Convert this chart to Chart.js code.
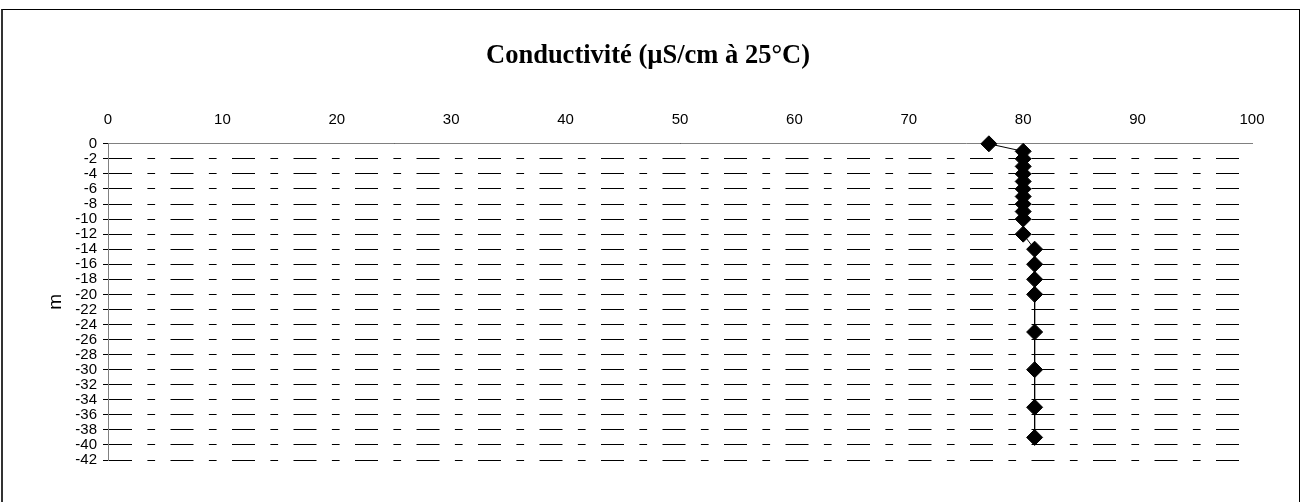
<!DOCTYPE html>
<html>
<head>
<meta charset="utf-8">
<script src="https://cdn.jsdelivr.net/npm/chart.js@4.4.1/dist/chart.umd.min.js"></script>
<style>
  html, body { margin: 0; padding: 0; background: #fff; overflow: hidden; }
  #wrap { position: relative; width: 1302px; height: 502px; }
  #frame {
    position: absolute; left: 1px; top: 9px; width: 1296px; height: 520px;
    border-top: 1px solid #000; border-left: 2px solid #333; border-right: 1px solid #000;
    pointer-events: none;
  }
</style>
</head>
<body>
<div id="wrap">
  <canvas id="chart" width="1302" height="502"></canvas>
  <div id="frame"></div>
</div>
<script>
// profondeur (m) et conductivité
const depths = [0, -1, -2, -3, -4, -5, -6, -7, -8, -9, -10, -12, -14, -16, -18, -20, -25, -30, -35, -39];
const conductivity = [77, 80, 80, 80, 80, 80, 80, 80, 80, 80, 80, 80, 81, 81, 81, 81, 81, 81, 81, 81];
const xTicks = [0, 10, 20, 30, 40, 50, 60, 70, 80, 90, 100];
const yTicks = [0, -2, -4, -6, -8, -10, -12, -14, -16, -18, -20, -22, -24, -26, -28, -30, -32, -34, -36, -38, -40, -42];

const points = depths.map((d, i) => ({ x: conductivity[i], y: d }));

const tickFont = { family: '"Liberation Sans", Arial, sans-serif', size: 15 };

new Chart(document.getElementById('chart'), {
    type: 'scatter',
    data: {
        datasets: [{
            data: points,
            showLine: true,
            borderColor: '#000',
            borderWidth: 1,
            pointStyle: 'rectRot',
            pointRadius: 8,
            pointBackgroundColor: '#000',
            pointBorderColor: '#000',
            pointBorderWidth: 1,
            clip: false
        }]
    },
    options: {
        responsive: false,
        animation: false,
        layout: { padding: { left: 44, right: 50, top: 0, bottom: 42 } },
        plugins: {
            legend: { display: false },
            tooltip: { enabled: false },
            title: {
                display: true,
                text: 'Conductivité (µS/cm à 25°C)',
                color: '#000',
                font: { family: '"Liberation Serif", "Times New Roman", serif', size: 26.5, weight: 'bold' },
                padding: { top: 40, bottom: 40 }
            }
        },
        scales: {
            x: {
                type: 'linear',
                position: 'top',
                min: 0,
                max: 100,
                afterBuildTicks: (scale) => { scale.ticks = xTicks.map(v => ({ value: v })); },
                afterFit: (scale) => { scale.height = 32; },
                ticks: { color: '#000', font: tickFont, padding: 15, maxRotation: 0 },
                grid: { display: false, drawTicks: false },
                border: { display: true, color: '#808080', width: 1 }
            },
            y: {
                type: 'linear',
                min: -42,
                max: 0,
                afterBuildTicks: (scale) => { scale.ticks = yTicks.map(v => ({ value: v })); },
                afterFit: (scale) => { scale.width = 64; },
                ticks: { color: '#000', font: tickFont, padding: 6, autoSkip: false },
                grid: {
                    color: '#000',
                    lineWidth: 1,
                    drawTicks: true,
                    tickLength: 5,
                    tickColor: '#000'
                },
                border: { display: true, color: '#808080', width: 1, dash: [23, 15.4, 7.7, 15.4] },
                title: {
                    display: true,
                    text: 'm',
                    color: '#000',
                    font: { family: '"Liberation Sans", Arial, sans-serif', size: 19 },
                    padding: { top: 0, bottom: 0 }
                }
            }
        }
    }
});
</script>
</body>
</html>
